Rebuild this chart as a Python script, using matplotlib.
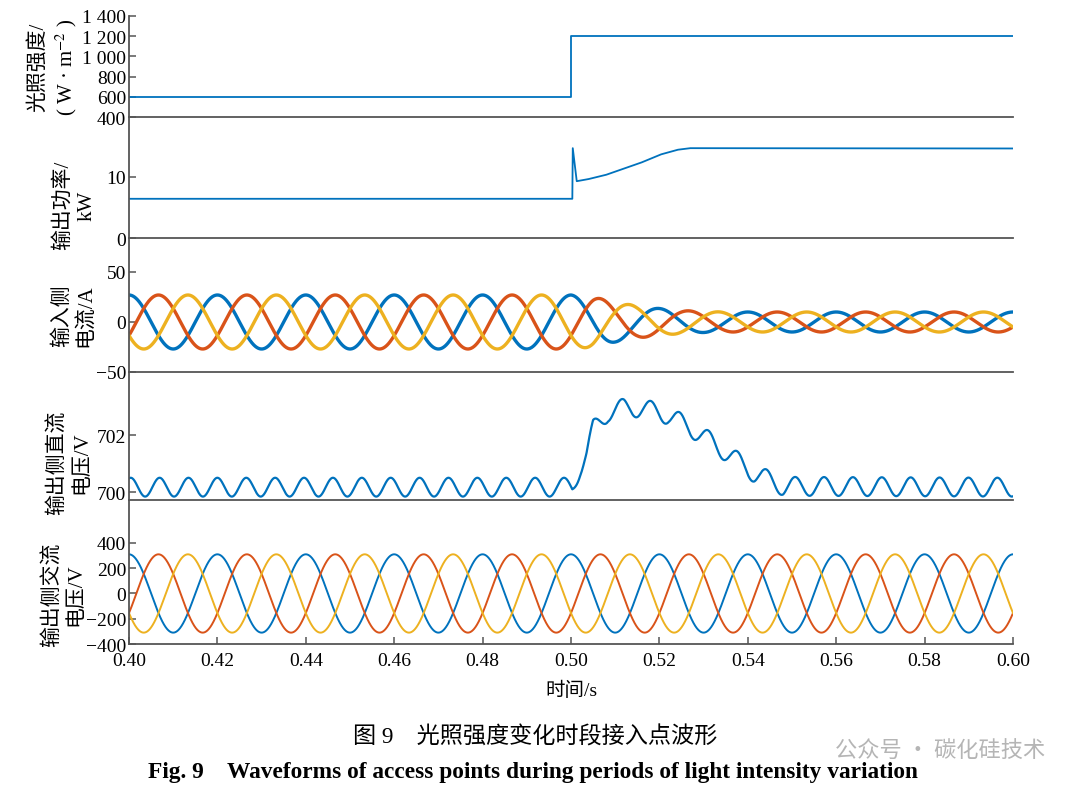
import numpy as np
import matplotlib.pyplot as plt

plt.rcParams['font.family'] = ['Liberation Serif', 'Noto Sans CJK SC']
plt.rcParams['mathtext.fontset'] = 'stix'

# colours (MATLAB default order)
c_a = '#0072BD'
c_b = '#D95319'
c_c = '#EDB120'

# --- data ---
# irradiance step
t_g = [0.40, 0.50, 0.50, 0.60]
g = [600, 600, 1200, 1200]

# output power, kW
t_p = [0.40, 0.5003, 0.5004, 0.5013, 0.504, 0.508, 0.512, 0.516, 0.5204, 0.5242, 0.527, 0.60]
p = [6.4, 6.4, 14.6, 9.25, 9.6, 10.3, 11.3, 12.3, 13.6, 14.35, 14.6, 14.55]

# input side current: amplitude envelope (A), 50 Hz three phase
f_grid = 50
t_ia = [0.40, 0.50, 0.505, 0.51, 0.515, 0.52, 0.525, 0.53, 0.535, 0.54, 0.60]
ia_amp = [27, 27, 25, 20, 16, 13.5, 11.5, 10.5, 10, 10, 10]

# dc link voltage: mean level and ripple
t_dc = [0.40, 0.5003, 0.502, 0.5035, 0.505, 0.5084, 0.512, 0.516, 0.522, 0.5286, 0.535, 0.5415, 0.548, 0.60]
dc_mean = [700.17, 700.17, 700.85, 701.3, 702.2, 702.8, 702.95, 702.95, 702.7, 702.1, 701.4, 700.65, 700.2, 700.17]
dc_ripple = 0.33
f_ripple = 153

# ac output voltage amplitude, V
v_amp = 310

x_ticks = [0.40, 0.42, 0.44, 0.46, 0.48, 0.50, 0.52, 0.54, 0.56, 0.58, 0.60]

t = np.linspace(0.40, 0.60, 6001)
th = 2 * np.pi * f_grid * t
phases = [0, -2 * np.pi / 3, 2 * np.pi / 3]
colors = [c_a, c_b, c_c]

fig = plt.figure(figsize=(10.8, 8.04), dpi=100)

left = 129 / 1080
width = (1013 - 129) / 1080
# (bottom px, top px) of each panel
rows = [(118.3, 16.7), (239.3, 118.3), (373, 239.3), (501, 373), (645, 501)]
axs = []
for b, tp in rows:
    ax = fig.add_axes([left, 1 - b / 804, width, (b - tp) / 804])
    ax.set_xlim(0.40, 0.60)
    for s in ['top', 'right']:
        ax.spines[s].set_visible(False)
    for s in ['left', 'bottom']:
        ax.spines[s].set_color('#555555')
        ax.spines[s].set_linewidth(1.3)
    ax.tick_params(axis='y', direction='in', length=5, width=1.1, color='#555555',
                   labelsize=14, pad=2)
    ax.tick_params(axis='x', direction='in', length=5, width=1.1, color='#555555',
                   labelsize=14, pad=6)
    ax.patch.set_alpha(0)
    axs.append(ax)

for ax in axs[:-1]:
    ax.set_xticks([])
axs[-1].set_xticks(x_ticks)
axs[-1].set_xticklabels(['%.2f' % v for v in x_ticks])

lab_fs = 15
lsp = 1.3

# panel 1: irradiance
ax = axs[0]
ax.plot(t_g, g, color=c_a, lw=1.3)
ax.set_ylim(400, 1400)
ax.set_yticks([400, 600, 800, 1000, 1200, 1400])
ax.set_yticklabels(['400', '600', '800', '1 000', '1 200', '1 400'])
ax.set_ylabel('光照强度/\n( W · m$^{-2}$ )', fontsize=lab_fs, linespacing=lsp)
ax.yaxis.set_label_coords(-0.056, 0.5)

# panel 2: power
ax = axs[1]
ax.plot(t_p, p, color=c_a, lw=1.3)
ax.set_ylim(0, 19.6)
ax.set_yticks([0, 10])
ax.set_ylabel('输出功率/\nkW', fontsize=lab_fs, linespacing=lsp)
ax.yaxis.set_label_coords(-0.037, 0.28)

# panel 3: input current
ax = axs[2]
env = np.interp(t, t_ia, ia_amp)
for ph, c in zip(phases, colors):
    ax.plot(t, env * np.cos(th + ph), color=c, lw=2.4)
ax.set_ylim(-50, 83.7)
ax.set_yticks([-50, 0, 50])
ax.set_yticklabels(['\u221250', '0', '50'])
ax.set_ylabel('输入侧\n电流/A', fontsize=lab_fs, linespacing=lsp)
ax.yaxis.set_label_coords(-0.037, 0.43)

# panel 4: dc voltage
ax = axs[3]
mean = np.interp(t, t_dc, dc_mean)
ax.plot(t, mean + dc_ripple * np.sin(2 * np.pi * f_ripple * (t - 0.4) + 1.2), color=c_a, lw=1.6)
ax.set_ylim(699.72, 704.21)
ax.set_yticks([700, 702])
ax.set_ylabel('输出侧直流\n电压/V', fontsize=lab_fs, linespacing=lsp)
ax.yaxis.set_label_coords(-0.043, 0.30)

# panel 5: ac voltage
ax = axs[4]
for ph, c in zip(phases, colors):
    ax.plot(t, v_amp * np.cos(th + ph), color=c, lw=1.4)
ax.set_ylim(-400, 740)
ax.set_yticks([-400, -200, 0, 200, 400])
ax.set_yticklabels(['\u2212400', '\u2212200', '0', '200', '400'])
ax.set_ylabel('输出侧交流\n电压/V', fontsize=lab_fs, linespacing=lsp)
ax.yaxis.set_label_coords(-0.049, 0.35)
ax.set_xlabel('时间/s', fontsize=14, labelpad=8)

fig.text(535 / 1080, 1 - 738 / 804, '图 9\u3000光照强度变化时段接入点波形',
         ha='center', va='center', fontsize=16.7)
fig.text(533 / 1080, 1 - 773 / 804,
         'Fig. 9    Waveforms of access points during periods of light intensity variation',
         ha='center', va='center', fontsize=16.8, fontweight='bold')
fig.text(1045 / 1080, 1 - 750 / 804, '公众号 · 碳化硅技术', ha='right', va='center',
         fontsize=16, color='#b5b5b5', family=['Noto Sans CJK SC'])

fig.savefig('out.png', dpi=100)
